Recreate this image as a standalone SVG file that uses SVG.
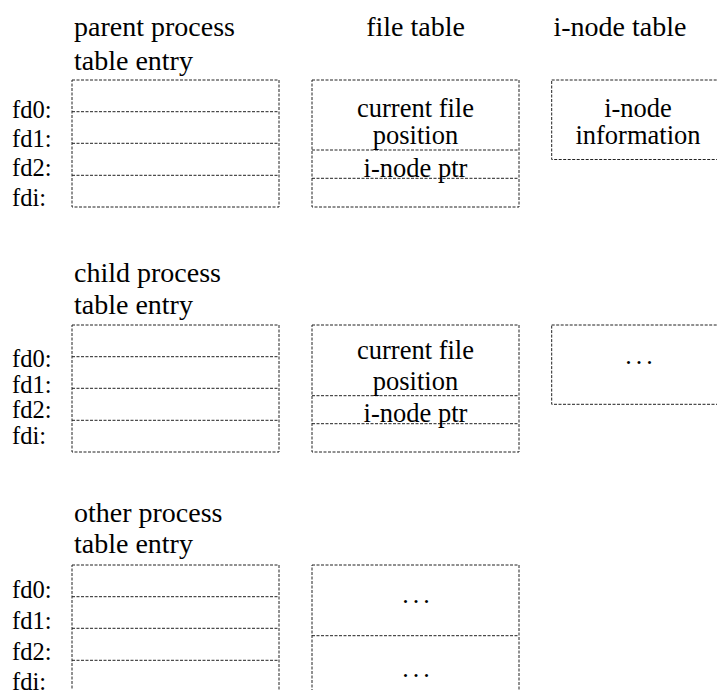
<svg xmlns="http://www.w3.org/2000/svg" width="717" height="690" viewBox="0 0 717 690">
  <style>
    .box { fill: none; stroke: #222; stroke-width: 1; stroke-dasharray: 3 1.5; }
    text { font-family: 'Liberation Serif', 'DejaVu Serif', serif; fill: #000; }
    .title { font-size: 28px; }
    .fd { font-size: 24.5px; }
    .cell { font-size: 26.5px; text-anchor: middle; }
    .dots { font-size: 26px; text-anchor: middle; letter-spacing: 4px; }
  </style>

  <!-- column headings -->
  <g id="headings" class="title">
    <text x="415.5" y="36" text-anchor="middle">file table</text>
    <text x="620" y="36" text-anchor="middle">i-node table</text>
  </g>

  <!-- parent process table entry -->
  <g id="parent-fd-table">
    <text class="title" x="74" y="36">parent process</text>
    <text class="title" x="74" y="70">table entry</text>
    <rect class="box" x="72" y="80" width="207" height="127"/>
    <line class="box" x1="72" y1="111.7" x2="279" y2="111.7"/>
    <line class="box" x1="72" y1="143.3" x2="279" y2="143.3"/>
    <line class="box" x1="72" y1="175.3" x2="279" y2="175.3"/>
    <g class="fd">
      <text x="12" y="118">fd0:</text>
      <text x="12" y="147">fd1:</text>
      <text x="12" y="176">fd2:</text>
      <text x="12" y="206">fdi:</text>
    </g>
  </g>

  <!-- file table entry shared by parent -->
  <g id="parent-file-entry">
    <rect class="box" x="312" y="80" width="207" height="127"/>
    <line class="box" x1="312" y1="150" x2="519" y2="150"/>
    <line class="box" x1="312" y1="178.3" x2="519" y2="178.3"/>
    <g class="cell">
      <text x="415.5" y="116.5">current file</text>
      <text x="415.5" y="144">position</text>
      <text x="415.5" y="177">i-node ptr</text>
    </g>
  </g>

  <!-- i-node table entry -->
  <g id="inode-entry">
    <rect class="box" x="551.7" y="80" width="170" height="79.5"/>
    <g class="cell">
      <text x="638" y="116.5">i-node</text>
      <text x="638" y="144">information</text>
    </g>
  </g>

  <!-- child process table entry -->
  <g id="child-fd-table">
    <text class="title" x="74" y="281.7">child process</text>
    <text class="title" x="74" y="314">table entry</text>
    <rect class="box" x="72" y="325" width="207" height="127"/>
    <line class="box" x1="72" y1="356.7" x2="279" y2="356.7"/>
    <line class="box" x1="72" y1="388.3" x2="279" y2="388.3"/>
    <line class="box" x1="72" y1="420.3" x2="279" y2="420.3"/>
    <g class="fd">
      <text x="12" y="366.7">fd0:</text>
      <text x="12" y="392.5">fd1:</text>
      <text x="12" y="418.3">fd2:</text>
      <text x="12" y="444">fdi:</text>
    </g>
  </g>

  <!-- file table entry for child -->
  <g id="child-file-entry">
    <rect class="box" x="312" y="325" width="207" height="127"/>
    <line class="box" x1="312" y1="395.7" x2="519" y2="395.7"/>
    <line class="box" x1="312" y1="423.7" x2="519" y2="423.7"/>
    <g class="cell">
      <text x="415.5" y="359">current file</text>
      <text x="415.5" y="390">position</text>
      <text x="415.5" y="421.7">i-node ptr</text>
    </g>
  </g>

  <!-- further i-node table entry -->
  <g id="inode-entry-2">
    <rect class="box" x="551.7" y="325" width="170" height="79.3"/>
    <text class="dots" x="641" y="364">...</text>
  </g>

  <!-- other process table entry -->
  <g id="other-fd-table">
    <text class="title" x="74" y="521.7">other process</text>
    <text class="title" x="74" y="553.3">table entry</text>
    <rect class="box" x="72" y="565" width="207" height="127"/>
    <line class="box" x1="72" y1="596.7" x2="279" y2="596.7"/>
    <line class="box" x1="72" y1="628.3" x2="279" y2="628.3"/>
    <line class="box" x1="72" y1="660.3" x2="279" y2="660.3"/>
    <g class="fd">
      <text x="12" y="598">fd0:</text>
      <text x="12" y="629">fd1:</text>
      <text x="12" y="660">fd2:</text>
      <text x="12" y="690">fdi:</text>
    </g>
  </g>

  <!-- other file table entries -->
  <g id="other-file-entries">
    <rect class="box" x="312" y="565" width="207" height="140"/>
    <line class="box" x1="312" y1="635.7" x2="519" y2="635.7"/>
    <text class="dots" x="418" y="603.3">...</text>
    <text class="dots" x="418" y="677.3">...</text>
  </g>
</svg>
